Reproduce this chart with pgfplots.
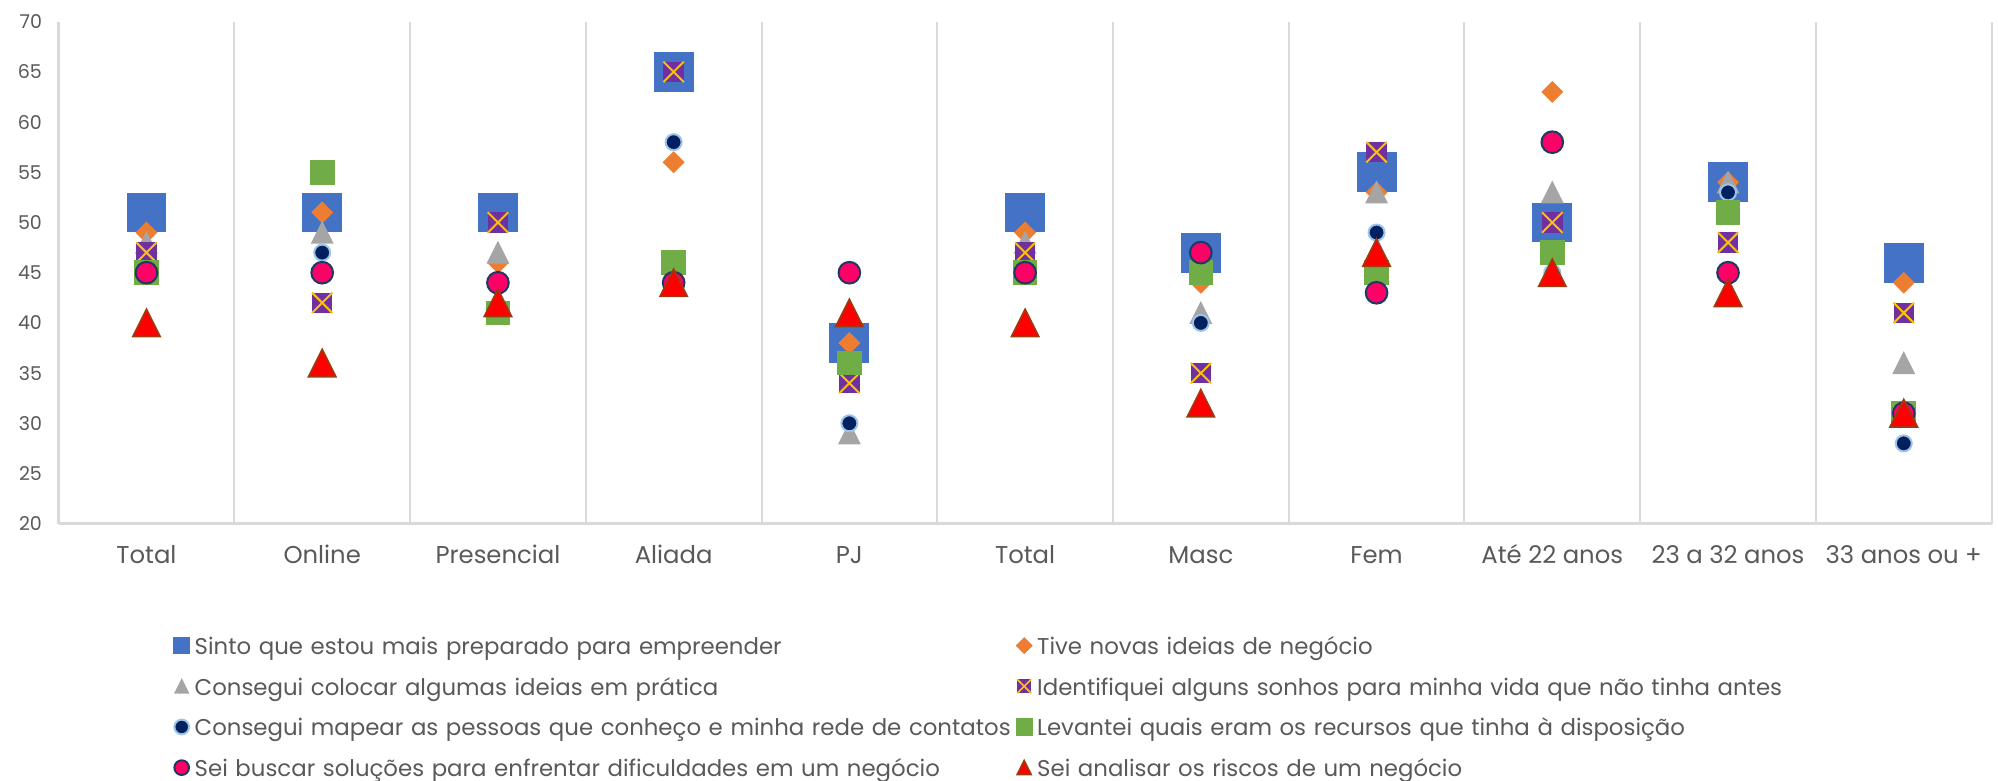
\documentclass[border=0pt]{standalone}
\usepackage{fontspec}
\setmainfont{Poppins}
\usepackage{pgfplots}
\pgfplotsset{compat=1.18}
\usepackage{pgfplotstable}
\usetikzlibrary{calc}

\definecolor{cblue}{HTML}{4472C4}
\definecolor{corange}{HTML}{ED7D31}
\definecolor{cgray}{HTML}{A5A5A5}
\definecolor{cpurple}{HTML}{7030A0}
\definecolor{cyellow}{HTML}{FFC000}
\definecolor{cnavy}{HTML}{002060}
\definecolor{cnavyb}{HTML}{9DC3E6}
\definecolor{cgreen}{HTML}{70AD47}
\definecolor{cpink}{HTML}{FF0066}
\definecolor{cpinkb}{HTML}{203864}
\definecolor{cred}{HTML}{FF0000}
\definecolor{credb}{HTML}{9E3A0E}
\definecolor{textgray}{HTML}{595959}
\definecolor{gridgray}{HTML}{D9D9D9}

% triangle centred on its box, as Excel draws it
\pgfdeclareplotmark{tri}{%
  \pgfpathmoveto{\pgfqpoint{0pt}{\pgfplotmarksize}}%
  \pgfpathlineto{\pgfqpoint{\pgfplotmarksize}{-\pgfplotmarksize}}%
  \pgfpathlineto{\pgfqpoint{-\pgfplotmarksize}{-\pgfplotmarksize}}%
  \pgfpathclose
  \pgfusepathqfillstroke}
% filled square with a cross
\pgfdeclareplotmark{sqx}{%
  \pgfpathrectangle{\pgfqpoint{-\pgfplotmarksize}{-\pgfplotmarksize}}{\pgfqpoint{2\pgfplotmarksize}{2\pgfplotmarksize}}%
  \pgfusepathqfill
  \pgfpathmoveto{\pgfqpoint{-\pgfplotmarksize}{-\pgfplotmarksize}}%
  \pgfpathlineto{\pgfqpoint{\pgfplotmarksize}{\pgfplotmarksize}}%
  \pgfpathmoveto{\pgfqpoint{-\pgfplotmarksize}{\pgfplotmarksize}}%
  \pgfpathlineto{\pgfqpoint{\pgfplotmarksize}{-\pgfplotmarksize}}%
  \pgfusepathqstroke}

% x s1..s8 in legend order
\pgfplotstableread{
x  s1 s2 s3 s4 s5 s6 s7 s8
0  51 49 48 47 45 45 45 40
1  51 51 49 42 47 55 45 36
2  51 46 47 50 44 41 44 42
3  65 56 44 65 58 46 44 44
4  38 38 29 34 30 36 45 41
5  51 49 48 47 45 45 45 40
6  47 44 41 35 40 45 47 32
7  55 53 53 57 49 45 43 47
8  50 63 53 50 45 47 58 45
9  54 54 54 48 53 51 45 43
10 46 44 36 41 28 31 31 31
}\datatab

\begin{document}
\begin{tikzpicture}
\begin{axis}[
    name=ax,
    scale only axis,
    width=579.9pt, height=150.6pt,
    xmin=-0.5, xmax=10.5, ymin=20, ymax=70,
    xtick={0,...,10},
    xticklabels={Total,Online,Presencial,Aliada,PJ,Total,Masc,Fem,Até 22 anos,23 a 32 anos,33 anos ou +},
    ytick={20,25,...,70},
    minor xtick={0.5,1.5,...,10.5},
    xminorgrids,
    minor grid style={draw=gridgray, line width=0.6pt},
    major tick length=0pt, minor tick length=0pt,
    axis x line=bottom, axis y line=left,
    axis line style={draw=gridgray, line width=0.75pt, -},
    /pgf/number format/assume math mode=true,
    tick label style={text=textgray},
    xticklabel style={font=\fontsize{7.3}{8}\selectfont, anchor=base, yshift=-11.9pt},
    yticklabel style={font=\fontsize{5.7}{7}\selectfont, inner sep=0pt, xshift=-4.8pt},
    clip=false,
    legend cell align=left,
    legend image code/.code={%
        \path[draw=none, fill=none] (0pt,0pt) rectangle (4.8pt,4.8pt);
        \draw[#1] plot coordinates {(2.4pt,0.3pt)};},
    legend style={
        draw=none, fill=none, inner sep=0pt, row sep=0pt,
        at={(axis description cs:0.0592,-0.2031)}, anchor=north west,
        font=\fontsize{6.85}{8}\selectfont, text=textgray,
        nodes={inner sep=0pt, text width=246.45pt, align=left, text height=8.5pt, text depth=3.7pt},
        /tikz/column 1/.style={column sep=1.5pt},
        /tikz/column 2/.style={column sep=0pt},
        /tikz/column 3/.style={column sep=1.5pt},
    },
    legend columns=2,
]

\addlegendimage{only marks, mark=square*, mark size=2.4pt, draw=cblue, fill=cblue}
\addlegendentry{Sinto que estou mais preparado para empreender}
\addlegendimage{only marks, mark=square*, mark size=1.6pt, mark options={rotate=45}, draw=corange, fill=corange}
\addlegendentry{Tive novas ideias de negócio}
\addlegendimage{only marks, mark=tri, mark size=2pt, draw=cgray, fill=cgray}
\addlegendentry{Consegui colocar algumas ideias em prática}
\addlegendimage{only marks, mark=sqx, mark size=2.1pt, fill=cpurple, draw=cyellow, line width=0.5pt}
\addlegendentry{Identifiquei alguns sonhos para minha vida que não tinha antes}
\addlegendimage{only marks, mark=*, mark size=2.2pt, fill=cnavy, draw=cnavyb, line width=0.6pt}
\addlegendentry{Consegui mapear as pessoas que conheço e minha rede de contatos}
\addlegendimage{only marks, mark=square*, mark size=2.4pt, draw=cgreen, fill=cgreen}
\addlegendentry{Levantei quais eram os recursos que tinha à disposição}
\addlegendimage{only marks, mark=*, mark size=2.2pt, fill=cpink, draw=cpinkb, line width=0.6pt}
\addlegendentry{Sei buscar soluções para enfrentar dificuldades em um negócio}
\addlegendimage{only marks, mark=tri, mark size=2.1pt, fill=cred, draw=credb, line width=0.5pt}
\addlegendentry{Sei analisar os riscos de um negócio}

\addplot[forget plot, only marks, mark=square*, mark size=5.78pt, draw=cblue, fill=cblue] table[x=x, y=s1] {\datatab};
\addplot[forget plot, only marks, mark=square*, mark size=2.12pt, mark options={rotate=45}, draw=corange, fill=corange] table[x=x, y=s2] {\datatab};
\addplot[forget plot, only marks, mark=tri, mark size=3.1pt, draw=cgray, fill=cgray] table[x=x, y=s3] {\datatab};
\addplot[forget plot, only marks, mark=sqx, mark size=3.07pt, fill=cpurple, draw=cyellow, line width=0.6pt] table[x=x, y=s4] {\datatab};
\addplot[forget plot, only marks, mark=*, mark size=2.4pt, fill=cnavy, draw=cnavyb, line width=0.6pt] table[x=x, y=s5] {\datatab};
\addplot[forget plot, only marks, mark=square*, mark size=3.5pt, draw=cgreen, fill=cgreen] table[x=x, y=s6] {\datatab};
\addplot[forget plot, only marks, mark=*, mark size=3.25pt, fill=cpink, draw=cpinkb, line width=0.6pt] table[x=x, y=s7] {\datatab};
\addplot[forget plot, only marks, mark=tri, mark size=4.1pt, fill=cred, draw=credb, line width=0.5pt] table[x=x, y=s8] {\datatab};
\end{axis}
\pgfresetboundingbox
\path ($(ax.south west)+(-17.58pt,-77.19pt)$) rectangle ($(ax.north east)+(1.92pt,6.51pt)$);
\end{tikzpicture}
\end{document}
